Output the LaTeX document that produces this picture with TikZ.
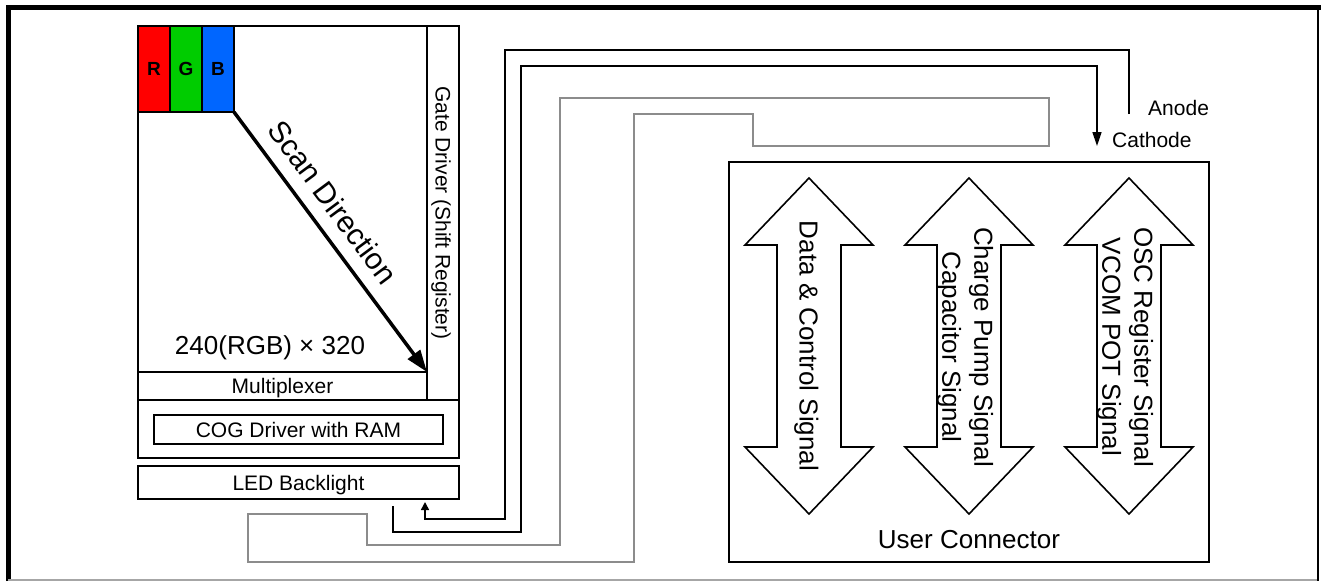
\documentclass[tikz,border=0pt]{standalone}
\usepackage{fontspec}
\setmainfont{Liberation Sans}
\usetikzlibrary{arrows.meta}
\definecolor{cellR}{RGB}{255,0,0}
\definecolor{cellG}{RGB}{0,204,0}
\definecolor{cellB}{RGB}{0,102,255}
\definecolor{flexgray}{RGB}{140,140,140}
\begin{document}
\begin{tikzpicture}[x=1pt, y=-1pt, line join=miter,
  box/.style={draw, line width=1.6pt, inner sep=0pt, outer sep=0pt},
  small/.style={font=\fontsize{21}{25}\selectfont, text height=15pt, text depth=0pt},
  big/.style={font=\fontsize{26}{32}\selectfont, text height=18.6pt, text depth=0pt},
  twoline/.style={font=\fontsize{26}{32}\selectfont, align=center, rotate=-90},
  cell/.style={box, minimum width=32pt, minimum height=86pt,
    font=\fontsize{19}{22}\selectfont\bfseries, text height=13.6pt, text depth=0pt},
  wire/.style={line width=1.6pt},
  flex/.style={line width=1.6pt, draw=flexgray},
  darrow/.pic={\draw[line width=1.6pt, fill=white]
    (0,-168) -- (64,-101) -- (32,-101) -- (32,101) -- (64,101) -- (0,168)
    -- (-64,101) -- (-32,101) -- (-32,-101) -- (-64,-101) -- cycle;}
]
\useasboundingbox (0,0) rectangle (1321,581);

% outer frame
\draw[line width=5pt] (8.5,581) -- (8.5,7) -- (1321,7);
\draw[line width=2pt] (1318,7) -- (1318,581);
\draw[line width=1.5pt, draw=gray!70] (8,580) -- (1317,580);

% LCD module
\node[box, minimum width=289pt, minimum height=346pt] (panel) at (282.5,199) {};
\node[cell, fill=cellR] (cr) at (154,69) {R};
\node[cell, fill=cellG] (cg) at (186,69) {G};
\node[cell, fill=cellB] (cb) at (218,69) {B};
\node[box, small, rotate=-90, minimum width=374pt, minimum height=32pt] (gate) at (443,213) {Gate Driver (Shift Register)};
\node[box, small, minimum width=289pt, minimum height=28pt] (mux) at (282.5,386) {Multiplexer};
\node[box, minimum width=321pt, minimum height=58pt] (cogframe) at (298.5,429) {};
\node[box, small, minimum width=289pt, minimum height=29pt] (cog) at (298.5,429.5) {COG Driver with RAM};
\node[box, small, minimum width=321pt, minimum height=33pt] (led) at (298.5,482.5) {LED Backlight};
\node[big, anchor=base] (res) at (270,354) {240(RGB) × 320};

% scan direction
\coordinate (scanEnd) at (427,372);
\draw[line width=3.5pt, -{Triangle[length=22pt,width=15pt]}] (cb.south east) -- (scanEnd);
\node[font=\fontsize{30}{36}\selectfont, text height=21.5pt, text depth=0pt, rotate=-53.4] (scan) at (333,202) {Scan Direction};

% backlight wiring
\coordinate (anodeEnd) at (1129,114);
\coordinate (cathodeEnd) at (1097,146);
\coordinate (ledIn) at (425,502);
\coordinate (ledOut) at (393,506);
\draw[wire, -{Triangle[length=8pt,width=8pt]}] (anodeEnd) |- (505,50) |- (425,519) -- (ledIn);
\draw[wire, -{Triangle[length=14pt,width=9pt]}] (ledOut) |- (521,532) |- (1097,66) -- (cathodeEnd);
\node[small, anchor=base west, inner sep=0pt] (anode) at (1148,115) {Anode};
\node[small, anchor=base west, inner sep=0pt] (cathode) at (1112,147) {Cathode};

% flex cable outline
\draw[flex] (560,98) -- (1049,98) -- (1049,146) -- (753,146) -- (753,114) -- (634,114)
  -- (634,562) -- (248,562) -- (248,514) -- (367,514) -- (367,545) -- (560,545) -- cycle;

% user connector
\node[box, minimum width=480pt, minimum height=400pt] (uc) at (969,362) {};
\pic at (809,346) {darrow};
\pic at (969,346) {darrow};
\pic at (1129,346) {darrow};
\node[big, rotate=-90] (sig1) at (809,346) {Data \& Control Signal};
\node[twoline] (sig2) at (965,347) {Charge Pump Signal\\Capacitor Signal};
\node[twoline] (sig3) at (1125,347) {OSC Register Signal\\VCOM POT Signal};
\node[big, anchor=base] (ucl) at (969,548) {User Connector};
\end{tikzpicture}
\end{document}
